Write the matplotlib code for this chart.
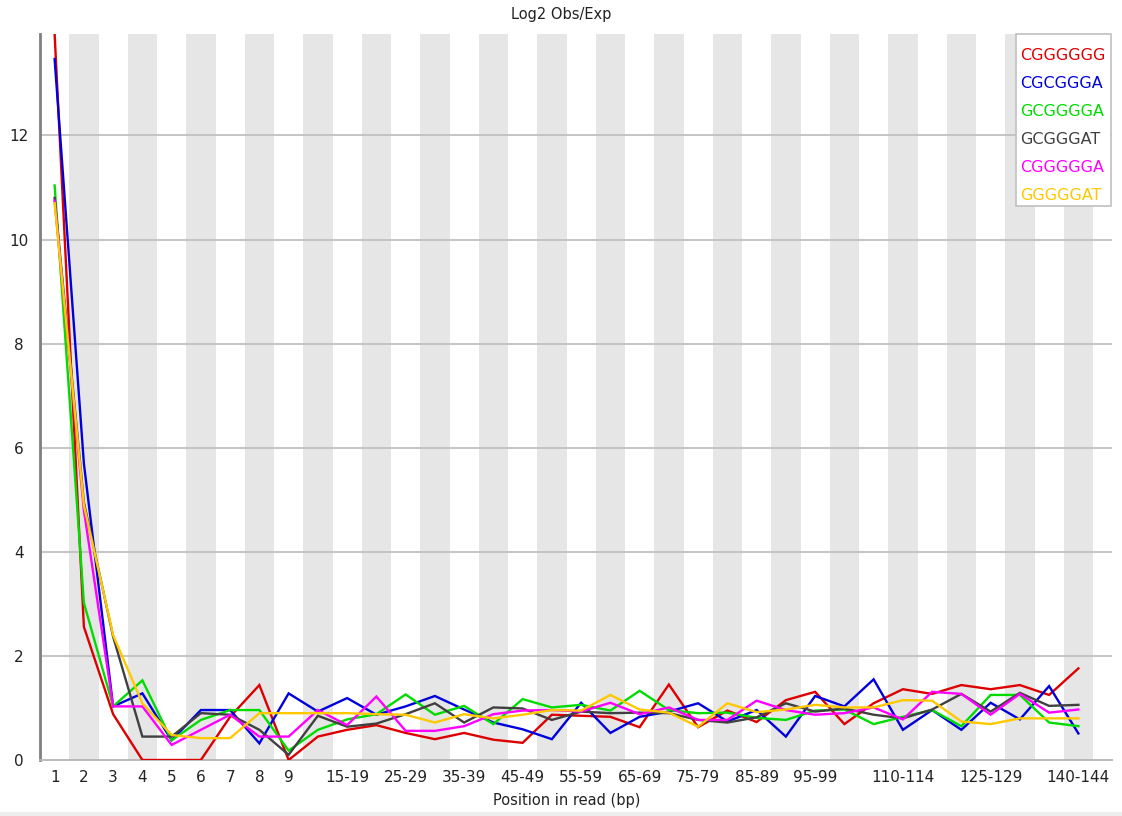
import numpy as np
import matplotlib
matplotlib.use("Agg")
import matplotlib.pyplot as plt
from matplotlib.patches import Rectangle

# ----------------------------------------------------------------------
# data
positions = ["1", "2", "3", "4", "5", "6", "7", "8", "9",
             "10-14", "15-19", "20-24", "25-29", "30-34", "35-39",
             "40-44", "45-49", "50-54", "55-59", "60-64", "65-69",
             "70-74", "75-79", "80-84", "85-89", "90-94", "95-99",
             "100-104", "105-109", "110-114", "115-119", "120-124",
             "125-129", "130-134", "135-139", "140-144"]
shown_labels = ["1", "2", "3", "4", "5", "6", "7", "8", "9", "15-19",
                "25-29", "35-39", "45-49", "55-59", "65-69", "75-79",
                "85-89", "95-99", "110-114", "125-129", "140-144"]

kmers = ["CGGGGGG", "CGCGGGA", "GCGGGGA", "GCGGGAT", "CGGGGGA", "GGGGGAT"]

cggggggg = [13.95, 2.56, 0.88, 0.0, 0.0, 0.0, 0.83, 1.44, 0.0, 0.45,
            0.58, 0.67, 0.52, 0.40, 0.52, 0.39, 0.33, 0.87, 0.85, 0.83,
            0.63, 1.45, 0.63, 0.95, 0.73, 1.15, 1.31, 0.69, 1.09, 1.36,
            1.27, 1.44, 1.36, 1.44, 1.25, 1.76]
cgcggga = [13.47, 5.7, 1.03, 1.28, 0.38, 0.96, 0.96, 0.32, 1.28, 0.93,
           1.19, 0.87, 1.03, 1.23, 0.97, 0.72, 0.59, 0.40, 1.10, 0.52,
           0.83, 0.93, 1.09, 0.74, 0.96, 0.45, 1.23, 1.03, 1.55, 0.58,
           0.96, 0.58, 1.10, 0.78, 1.42, 0.51]
gcgggga = [11.04, 3.02, 1.03, 1.53, 0.38, 0.77, 0.96, 0.96, 0.18, 0.58,
           0.78, 0.88, 1.26, 0.87, 1.04, 0.69, 1.17, 1.01, 1.06, 0.95,
           1.33, 0.96, 0.90, 0.91, 0.81, 0.77, 0.95, 0.97, 0.69, 0.83,
           0.96, 0.65, 1.25, 1.25, 0.72, 0.65]
gcgggat = [10.8, 4.95, 2.37, 0.45, 0.45, 0.90, 0.87, 0.58, 0.10, 0.85,
           0.64, 0.70, 0.88, 1.09, 0.72, 1.01, 0.99, 0.77, 0.93, 0.90,
           0.91, 0.90, 0.77, 0.72, 0.82, 1.09, 0.93, 0.99, 0.87, 0.80,
           0.97, 1.27, 0.93, 1.29, 1.04, 1.06]
cggggga = [10.75, 4.8, 1.03, 1.03, 0.29, 0.58, 0.87, 0.45, 0.45, 0.96,
           0.67, 1.22, 0.56, 0.56, 0.65, 0.88, 0.95, 0.96, 0.93, 1.10,
           0.88, 1.01, 0.77, 0.77, 1.14, 0.96, 0.87, 0.90, 1.01, 0.78,
           1.31, 1.27, 0.87, 1.27, 0.91, 0.97]
gggggat = [10.7, 4.9, 2.40, 1.09, 0.48, 0.42, 0.42, 0.90, 0.90, 0.90,
           0.90, 0.88, 0.87, 0.72, 0.88, 0.80, 0.87, 0.96, 0.95, 1.25,
           0.97, 0.91, 0.64, 1.09, 0.92, 0.97, 1.06, 1.01, 1.01, 1.15,
           1.14, 0.74, 0.69, 0.80, 0.80, 0.80]

series = [cggggggg, cgcggga, gcgggga, gcgggat, cggggga, gggggat]
colours = ["#dc0000", "#0000dc", "#00dc00", "#404040", "#ff00ff", "#ffc800"]

W, H = 1122, 816

# ----------------------------------------------------------------------
# figure
fig = plt.figure(figsize=(W / 100, H / 100), dpi=100)
fig.patch.set_facecolor("white")
ax = fig.add_axes([40 / W, 56 / H, 1072 / W, 726 / H])

n = len(positions)
x = np.arange(n)
ymax = 13.95

# alternating background bands
for i in range(1, n, 2):
    ax.axvspan(i - 0.5, i + 0.5, color="#e6e6e6", lw=0, zorder=0)

# horizontal grid
for yv in range(2, 14, 2):
    ax.axhline(yv, color="#c0c0c0", lw=1.3, zorder=1)

for vals, col, name in zip(series, colours, kmers):
    ax.plot(x, vals, color=col, lw=1.7, label=name, zorder=3,
            solid_joinstyle="miter")

ax.set_xlim(-0.5, n - 0.5 + 19 / 29.25)
ax.set_ylim(0, ymax)

ax.set_yticks(range(0, 14, 2))
ax.set_yticklabels([str(v) for v in range(0, 14, 2)], ha="center")
ax.set_xticks([positions.index(lab) for lab in shown_labels])
ax.set_xticklabels(shown_labels)
ax.tick_params(length=0, labelsize=11, colors="#222222")
ax.tick_params(axis="y", pad=15)
ax.tick_params(axis="x", pad=7)

for side in ["top", "right"]:
    ax.spines[side].set_visible(False)
ax.spines["left"].set_color("#808080")
ax.spines["left"].set_linewidth(2)
ax.spines["bottom"].set_color("#b4b4b4")
ax.spines["bottom"].set_linewidth(1.3)

# legend box, drawn by hand in pixel positions like the original
fig.patches.append(Rectangle((1016 / W, 1 - 206 / H), 95 / W, 172 / H,
                             transform=fig.transFigure, facecolor="white",
                             edgecolor="#c0c0c0", lw=1.2, zorder=5))
for i, (name, col) in enumerate(zip(kmers, colours)):
    fig.text(1020 / W, 1 - (56 + 27.8 * i) / H, name, color=col,
             fontsize=11.5, ha="left", va="center", zorder=6)

fig.text(0.5, 1 - 14 / H, "Log2 Obs/Exp", ha="center", va="center",
         fontsize=10.5, color="#222222")
fig.text(567 / W, 1 - 801 / H, "Position in read (bp)", ha="center",
         va="center", fontsize=10.5, color="#222222")

# grey strip at the very bottom of the screenshot
fig.patches.append(Rectangle((0, 0), 1, 4 / H, transform=fig.transFigure,
                             facecolor="#eeeeee", edgecolor="none"))

fig.savefig("out.png", dpi=100)
